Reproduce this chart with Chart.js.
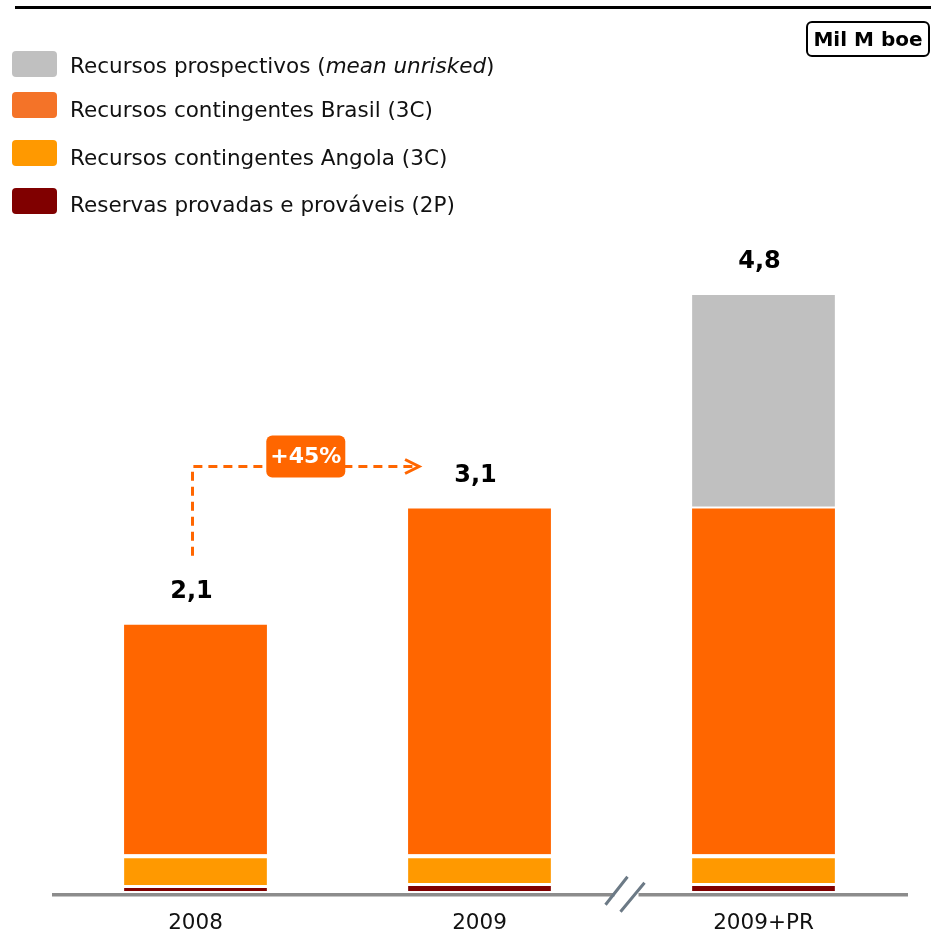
<!DOCTYPE html>
<html>
<head>
<meta charset="utf-8">
<script src="https://cdn.jsdelivr.net/npm/chart.js@4.4.1/dist/chart.umd.min.js"></script>
<style>
    html, body { margin: 0; padding: 0; background: #fff; }
    #wrap { position: relative; width: 931px; height: 936px; overflow: hidden; font-family: 'DejaVu Sans', Verdana, sans-serif; }
    #chart { position: absolute; left: 0; top: 0; }
    #topline { position: absolute; left: 15px; top: 6px; width: 916px; height: 3px; background: #000; }
    #unit { position: absolute; left: 806px; top: 21px; width: 120px; height: 32px; border: 2px solid #000; border-radius: 6px;
            font-weight: bold; font-size: 20px; line-height: 32px; text-align: center; color: #000; }
    .swatch { position: absolute; left: 12px; width: 45px; height: 26px; border-radius: 4px; }
    .ltext { position: absolute; left: 70px; font-size: 21.5px; line-height: 26px; color: #111; white-space: nowrap; }
</style>
</head>
<body>
<div id="wrap">
    <canvas id="chart" width="931" height="936"></canvas>
    <div id="topline"></div>
    <div id="unit">Mil M boe</div>
    <div id="legend"></div>
</div>
<script>
// Data (Mil M boe)
const categories = ['2008', '2009', '2009+PR'];
const reservas = [0.05, 0.065, 0.065];
const angola = [0.245, 0.23, 0.23];
const brasil = [1.84, 2.77, 2.77];
const prospectivos = [0, 0, 1.71];
const totals = [2.1, 3.1, 4.8];
const growthLabel = '+45%';

const seriesNames = [
    'Reservas provadas e prováveis (2P)',
    'Recursos contingentes Angola (3C)',
    'Recursos contingentes Brasil (3C)',
    'Recursos prospectivos (mean unrisked)'
];
const barColors = ['#800000', '#ff9900', '#ff6600', '#c0c0c0'];
const swatchColors = ['#800000', '#ff9900', '#f47328', '#c0c0c0'];

document.addEventListener('DOMContentLoaded', () => {
    // Legend (top of stack first)
    const legend = document.getElementById('legend');
    const rowTops = [51, 92, 140, 188];
    const textTops = [53, 97, 145, 192];
    [3, 2, 1, 0].forEach((d, row) => {
        const sw = document.createElement('div');
        sw.className = 'swatch';
        sw.style.top = rowTops[row] + 'px';
        sw.style.background = swatchColors[d];
        legend.appendChild(sw);

        const tx = document.createElement('div');
        tx.className = 'ltext';
        tx.style.top = textTops[row] + 'px';
        tx.innerHTML = seriesNames[d].replace('mean unrisked', '<i>mean unrisked</i>');
        legend.appendChild(tx);
    });

    const overlay = {
        id: 'overlay',
        afterDatasetsDraw(chart) {
            const { ctx, scales: { x, y } } = chart;
            const base = y.getPixelForValue(0);
            ctx.save();

            // x axis with break
            const axisY = base + 3.5;
            const breakX = (x.getPixelForValue(1) + x.getPixelForValue(2)) / 2 + 3;
            ctx.strokeStyle = '#8c8c8c';
            ctx.lineWidth = 3.5;
            ctx.beginPath();
            ctx.moveTo(x.left - 1.5, axisY);
            ctx.lineTo(breakX - 10, axisY);
            ctx.moveTo(breakX + 14, axisY);
            ctx.lineTo(x.right + 2.5, axisY);
            ctx.stroke();

            ctx.strokeStyle = '#6c7a86';
            ctx.lineWidth = 3;
            ctx.beginPath();
            ctx.moveTo(breakX - 19, axisY + 10);
            ctx.lineTo(breakX + 3, axisY - 18);
            ctx.moveTo(breakX - 4, axisY + 17);
            ctx.lineTo(breakX + 20, axisY - 12);
            ctx.stroke();

            // totals above bars
            const meta = chart.getDatasetMeta(0);
            const tops = categories.map((c, i) =>
                y.getPixelForValue(reservas[i] + angola[i] + brasil[i] + prospectivos[i]));
            ctx.fillStyle = '#000';
            ctx.font = 'bold 24px "DejaVu Sans"';
            ctx.textAlign = 'center';
            ctx.textBaseline = 'alphabetic';
            totals.forEach((t, i) => {
                ctx.fillText(t.toFixed(1).replace('.', ','), meta.data[i].x - 4, tops[i] - 27);
            });

            // growth arrow 2008 -> 2009
            const x0 = meta.data[0].x - 3;
            const yLow = tops[0] - 69;
            const yLine = tops[1] - 42;
            const tip = meta.data[1].x - meta.data[1].width / 2 + 11;
            ctx.strokeStyle = '#ff6600';
            ctx.lineWidth = 3;
            ctx.setLineDash([9, 6]);
            ctx.beginPath();
            ctx.moveTo(x0, yLow);
            ctx.lineTo(x0, yLine);
            ctx.lineTo(tip - 2, yLine);
            ctx.stroke();
            ctx.setLineDash([]);
            ctx.beginPath();
            ctx.moveTo(tip - 14, yLine - 7);
            ctx.lineTo(tip, yLine);
            ctx.lineTo(tip - 14, yLine + 7);
            ctx.stroke();

            const mx = (x0 + tip) / 2;
            const bw = 79, bh = 42;
            ctx.fillStyle = '#ff6600';
            ctx.beginPath();
            ctx.roundRect(mx - bw / 2, yLine - 31, bw, bh, 6);
            ctx.fill();
            ctx.fillStyle = '#fff';
            ctx.font = 'bold 22px "DejaVu Sans"';
            ctx.textBaseline = 'middle';
            ctx.fillText(growthLabel, mx, yLine - 9);

            ctx.restore();
        }
    };

    const borders = [
        { top: 3, right: 0, bottom: 0, left: 0 },
        { top: 4, right: 0, bottom: 0, left: 0 },
        0,
        { top: 0, right: 0, bottom: 2, left: 0 }
    ];
    const values = [reservas, angola, brasil, prospectivos];

    new Chart(document.getElementById('chart'), {
        type: 'bar',
        data: {
            labels: categories,
            datasets: values.map((v, d) => ({
                label: seriesNames[d],
                data: v,
                backgroundColor: barColors[d],
                borderColor: '#ffffff',
                borderWidth: borders[d],
                borderSkipped: false,
                barPercentage: 0.503,
                categoryPercentage: 1
            }))
        },
        options: {
            responsive: false,
            animation: false,
            layout: { padding: { left: 53.5, right: 25.5, top: 204.5, bottom: -19 } },
            plugins: { legend: { display: false }, tooltip: { enabled: false } },
            scales: {
                x: {
                    stacked: true,
                    grid: { display: false, drawTicks: false },
                    border: { display: false },
                    ticks: { padding: 19, color: '#111', font: { family: 'DejaVu Sans', size: 21.5 } }
                },
                y: { stacked: true, display: false, min: 0, max: 5.5 }
            }
        },
        plugins: [overlay]
    });
});
</script>
</body>
</html>
